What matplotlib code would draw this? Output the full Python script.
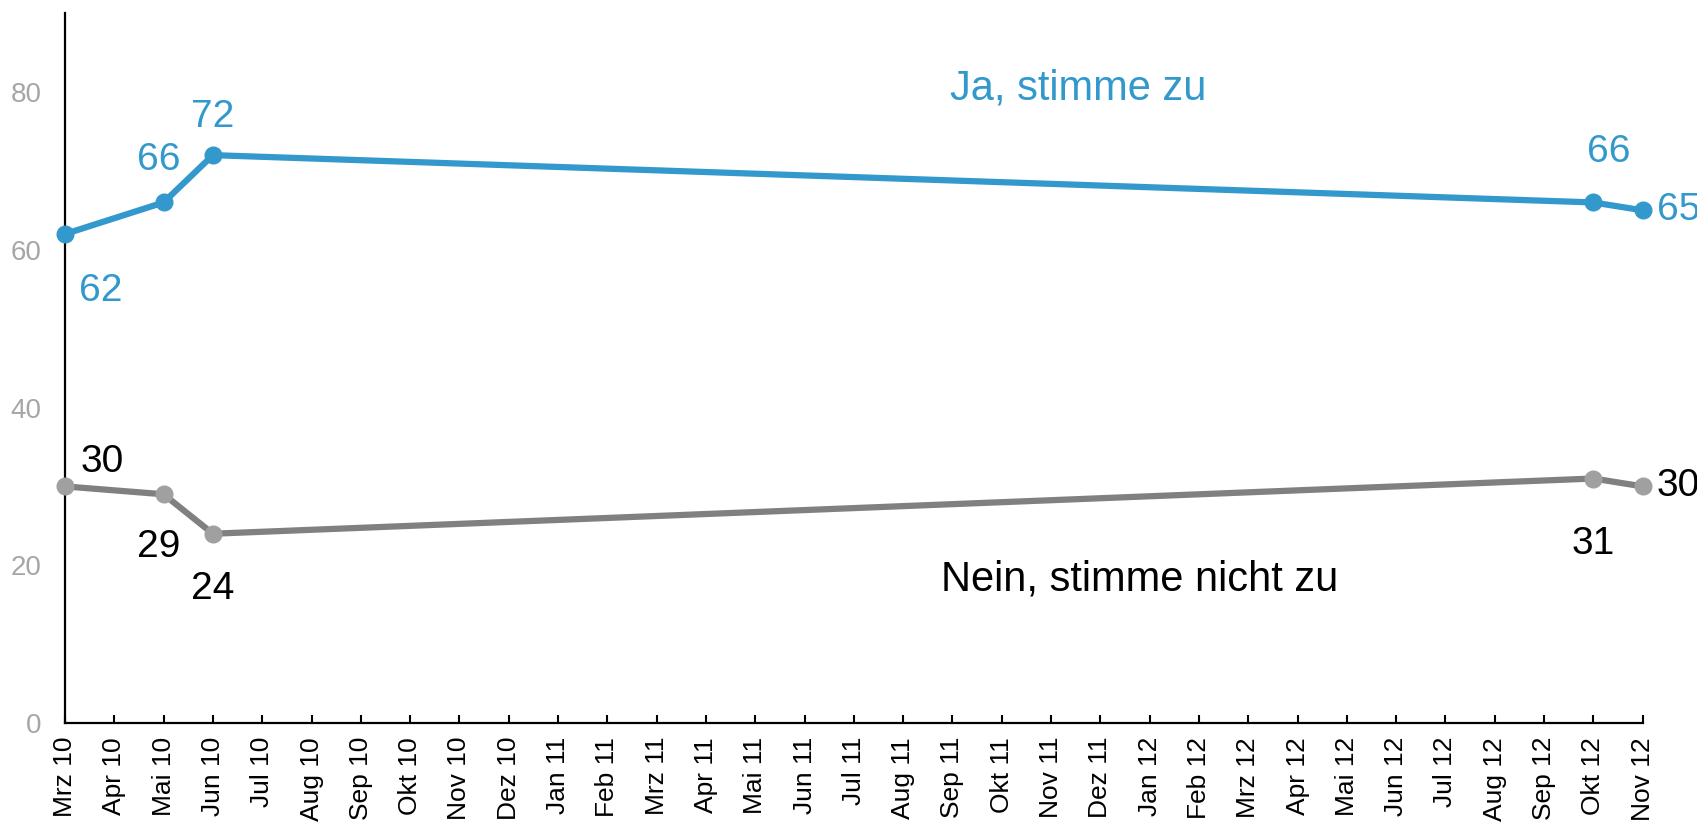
import matplotlib
matplotlib.use("Agg")
import matplotlib.pyplot as plt

plt.rcParams["font.family"] = ["Liberation Sans", "DejaVu Sans"]

months = ["Mrz 10", "Apr 10", "Mai 10", "Jun 10", "Jul 10", "Aug 10", "Sep 10", "Okt 10",
          "Nov 10", "Dez 10", "Jan 11", "Feb 11", "Mrz 11", "Apr 11", "Mai 11", "Jun 11",
          "Jul 11", "Aug 11", "Sep 11", "Okt 11", "Nov 11", "Dez 11", "Jan 12", "Feb 12",
          "Mrz 12", "Apr 12", "Mai 12", "Jun 12", "Jul 12", "Aug 12", "Sep 12", "Okt 12",
          "Nov 12"]
survey_months = ["Mrz 10", "Mai 10", "Jun 10", "Okt 12", "Nov 12"]
ja = [62, 66, 72, 66, 65]
nein = [30, 29, 24, 31, 30]

# label offsets in pixels (dx, dy), per point; last point labelled to the right
ja_off = [(36, -57), (-5, 42), (0, 38), (15, 50), (14, 0)]
nein_off = [(37, 24), (-5, -53), (0, -55), (0, -65), (14, 0)]

BLUE = "#3399CC"
GRAY_LINE = "#808080"
GRAY_DOT = "#A0A0A0"

x = [months.index(m) for m in survey_months]

fig = plt.figure(figsize=(16.97, 8.22), dpi=100)
ax = fig.add_axes([0.0383, 0.1204, 0.968 - 0.0383, 0.984 - 0.1204])

ax.plot(x, ja, "-", color=BLUE, lw=4.5, marker="o", ms=12, mfc=BLUE, mec=BLUE, clip_on=False, zorder=3)
ax.plot(x, nein, "-", color=GRAY_LINE, lw=4.5, marker="o", ms=12, mfc=GRAY_DOT, mec=GRAY_DOT, clip_on=False, zorder=3)

for series, offs, col in [(ja, ja_off, BLUE), (nein, nein_off, "black")]:
    for i, (xi, v, (dx, dy)) in enumerate(zip(x, series, offs)):
        ha = "left" if i == len(x) - 1 else "center"
        ax.annotate(str(v), (xi, v), xytext=(dx, dy), textcoords="offset pixels",
                    ha=ha, va="center", fontsize=28, color=col)

ax.text(20.55, 80.5, "Ja, stimme zu", color=BLUE, fontsize=30, ha="center", va="center")
ax.text(21.8, 18.2, "Nein, stimme nicht zu", color="black", fontsize=30, ha="center", va="center")

ax.set_xlim(0, len(months) - 1)
ax.set_ylim(0, 90)
ax.set_xticks(range(len(months)))
ax.set_xticklabels(months, rotation=90, fontsize=19)
ax.set_yticks([0, 20, 40, 60, 80])
ax.tick_params(axis="x", direction="in", length=6, width=1.5, pad=10)
ax.tick_params(axis="y", length=0, pad=17, labelsize=20, labelcolor="#A6A6A6")

for s in ["top", "right"]:
    ax.spines[s].set_visible(False)
for s in ["left", "bottom"]:
    ax.spines[s].set_linewidth(1.6)
    ax.spines[s].set_color("black")

fig.savefig("out.png", dpi=100)
